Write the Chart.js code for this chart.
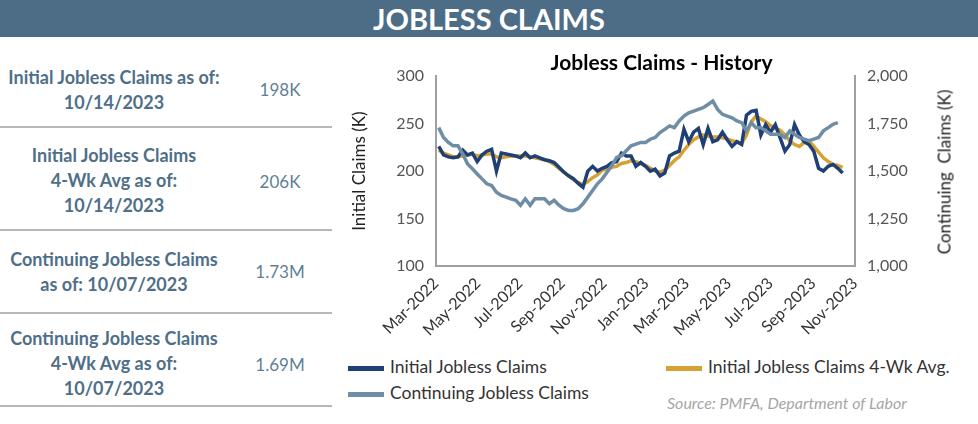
<!DOCTYPE html>
<html><head><meta charset="utf-8">
<script src="https://cdn.jsdelivr.net/npm/chart.js@4"></script>
<style>
body{margin:0;width:978px;height:424px;background:#fff;font-family:Lato,"Open Sans",sans-serif;position:relative;overflow:hidden}
#hdr{position:absolute;left:0;top:0;width:978px;height:37px;background:#4d6c86;color:#fff;font-weight:bold;font-size:29px;text-align:center;line-height:38px}
.row{position:absolute;left:0;width:332px;color:#5b7a90;font-size:18px}
.lab{position:absolute;left:0;width:228px;text-align:center;font-weight:bold;line-height:25px;color:#4f6f88}
.val{position:absolute;left:240px;width:80px;text-align:center;color:#5f7f96;font-size:17px}
.sep{position:absolute;left:0;width:332px;height:2px;background:#b8b8b8}
#wrap{position:absolute;left:345px;top:40px;width:633px;height:312px}
#leg{position:absolute;left:348px;top:356px;width:630px;font-size:17.5px;color:#333}
.li{position:absolute;white-space:nowrap}
.sw{display:inline-block;width:36px;height:5px;vertical-align:middle;margin-right:6px}
#src{position:absolute;left:667px;top:393px;font-style:italic;color:#a6a6a6;font-size:16px}
#rt{position:absolute;left:944px;top:172px;transform:translate(-50%,-50%) rotate(-90deg);white-space:nowrap;font-size:17px;color:#222}
</style></head><body>
<div id="hdr">JOBLESS CLAIMS</div>
<div class="row" style="top:65px"><div class="lab">Initial Jobless Claims as of:<br>10/14/2023</div><div class="val" style="top:14px">198K</div></div>
<div class="sep" style="top:126px"></div>
<div class="row" style="top:143px"><div class="lab">Initial Jobless Claims<br>4-Wk Avg as of:<br>10/14/2023</div><div class="val" style="top:28px">206K</div></div>
<div class="sep" style="top:229px"></div>
<div class="row" style="top:247px"><div class="lab">Continuing Jobless Claims<br>as of: 10/07/2023</div><div class="val" style="top:14px">1.73M</div></div>
<div class="sep" style="top:312px"></div>
<div class="row" style="top:326px"><div class="lab">Continuing Jobless Claims<br>4-Wk Avg as of:<br>10/07/2023</div><div class="val" style="top:28px">1.69M</div></div>
<div class="sep" style="top:405px"></div>
<div id="wrap"><canvas id="c"></canvas></div>
<div id="rt">Continuing&nbsp; Claims (K)</div>
<div id="leg">
<div class="li" style="left:0;top:0"><span class="sw" style="background:#1f3f77"></span>Initial Jobless Claims</div>
<div class="li" style="left:318px;top:0"><span class="sw" style="background:#d6a233"></span>Initial Jobless Claims 4-Wk Avg.</div>
<div class="li" style="left:0;top:26px"><span class="sw" style="background:#6f8ea6"></span>Continuing Jobless Claims</div>
</div>
<div id="src">Source: PMFA, Department of Labor</div>
<script>
const startDate = "2022-03-05";
const initialClaims = [226,217,215,214,215,222,217,219,210,217,
221,223,200,219,218,217,216,214,219,214,
216,214,212,211,209,204,199,195,192,187,
183,200,205,200,203,205,209,210,219,216,
216,205,209,205,200,202,195,198,216,219,
221,244,231,241,245,228,245,231,233,241,
233,226,231,228,259,263,264,238,249,241,
249,235,221,228,249,238,231,228,221,203,
200,205,207,203,198];
const fourWeekAvg = [222,219,217,215,215,216,217,218,216,217,
218,218,215,214,215,216,216,216,216,215,
214,213,212,210,207,203,199,195,191,188,
186,189,193,196,201,202,204,205,208,209,
211,210,208,206,203,200,199,201,206,211,
215,222,228,233,236,238,237,236,236,235,
234,232,231,229,238,252,258,255,252,248,
245,243,238,232,228,226,230,232,226,220,
214,210,207,206,204];
const continuingClaims = [1729,1677,1651,1633,1633,1590,1538,1512,1485,1459,
1433,1424,1389,1372,1363,1354,1346,1320,1354,1320,
1354,1354,1354,1328,1346,1320,1302,1293,1293,1302,
1328,1363,1398,1433,1459,1494,1529,1572,1581,1607,
1633,1642,1651,1651,1668,1677,1703,1720,1738,1729,
1764,1790,1807,1816,1825,1834,1851,1869,1825,1799,
1790,1781,1764,1755,1712,1755,1729,1729,1712,1694,
1694,1694,1677,1712,1694,1677,1668,1660,1668,1677,
1712,1729,1747,1755];
const tickMonths = ["Mar-2022","May-2022","Jul-2022","Sep-2022","Nov-2022","Jan-2023","Mar-2023","May-2023","Jul-2023","Sep-2023","Nov-2023"];

const MS=86400000, t0=Date.UTC(2022,2,1);
const mon={Jan:0,Feb:1,Mar:2,Apr:3,May:4,Jun:5,Jul:6,Aug:7,Sep:8,Oct:9,Nov:10,Dec:11};
const tickDays = tickMonths.map(s=>{const [m,y]=s.split('-');return (Date.UTC(+y,mon[m],1)-t0)/MS;});
const d0=(Date.parse(startDate+"T00:00:00Z")-t0)/MS;
const pts=a=>a.map((v,i)=>({x:d0+7*i,y:v}));
const lbl={}; tickDays.forEach((d,i)=>lbl[d]=tickMonths[i]);
const ax='#a0a0a0';
new Chart(document.getElementById('c'),{
type:'line',
data:{datasets:[
{data:pts(continuingClaims),yAxisID:'y2',borderColor:'#6f8ea6',borderWidth:3.5,pointRadius:0,tension:0},
{data:pts(initialClaims),yAxisID:'y',borderColor:'#1f3f77',borderWidth:3.5,pointRadius:0,tension:0},
{data:pts(fourWeekAvg),yAxisID:'y',borderColor:'#d6a233',borderWidth:3.5,pointRadius:0,tension:0}
]},
options:{responsive:true,maintainAspectRatio:false,animation:false,
layout:{padding:{top:11,right:0,left:0,bottom:0}},
plugins:{legend:{display:false},tooltip:{enabled:false},
title:{display:true,text:'Jobless Claims - History',color:'#000',font:{family:'Lato',size:21,weight:'bold'},padding:{top:0,bottom:0},position:'top'}},
scales:{
x:{type:'linear',min:0,max:tickDays[tickDays.length-1],
afterBuildTicks:s=>{s.ticks=tickDays.map(v=>({value:v}));},
ticks:{callback:v=>lbl[v],maxRotation:45,minRotation:45,color:'#333',font:{family:'Lato',size:16},autoSkip:false,padding:2},
grid:{display:false,drawTicks:true,tickLength:6,color:ax},border:{color:ax,width:2},
afterFit:s=>{s.height=86;}},
y:{position:'left',min:100,max:300,ticks:{stepSize:50,color:'#555',font:{family:'Lato',size:16},padding:6},
title:{display:true,text:'Initial Claims (K)',color:'#222',font:{family:'Lato',size:17}},
grid:{display:false,drawTicks:true,tickLength:6,color:ax},border:{color:ax,width:2},afterFit:s=>{s.width=91;}},
y2:{position:'right',min:1000,max:2000,ticks:{stepSize:250,color:'#555',font:{family:'Lato',size:16},padding:6,callback:v=>v.toLocaleString('en-US')},
grid:{display:false,drawTicks:true,tickLength:6,color:ax},border:{color:ax,width:2},afterFit:s=>{s.width=123;}}
}}});
</script>
</body></html>
